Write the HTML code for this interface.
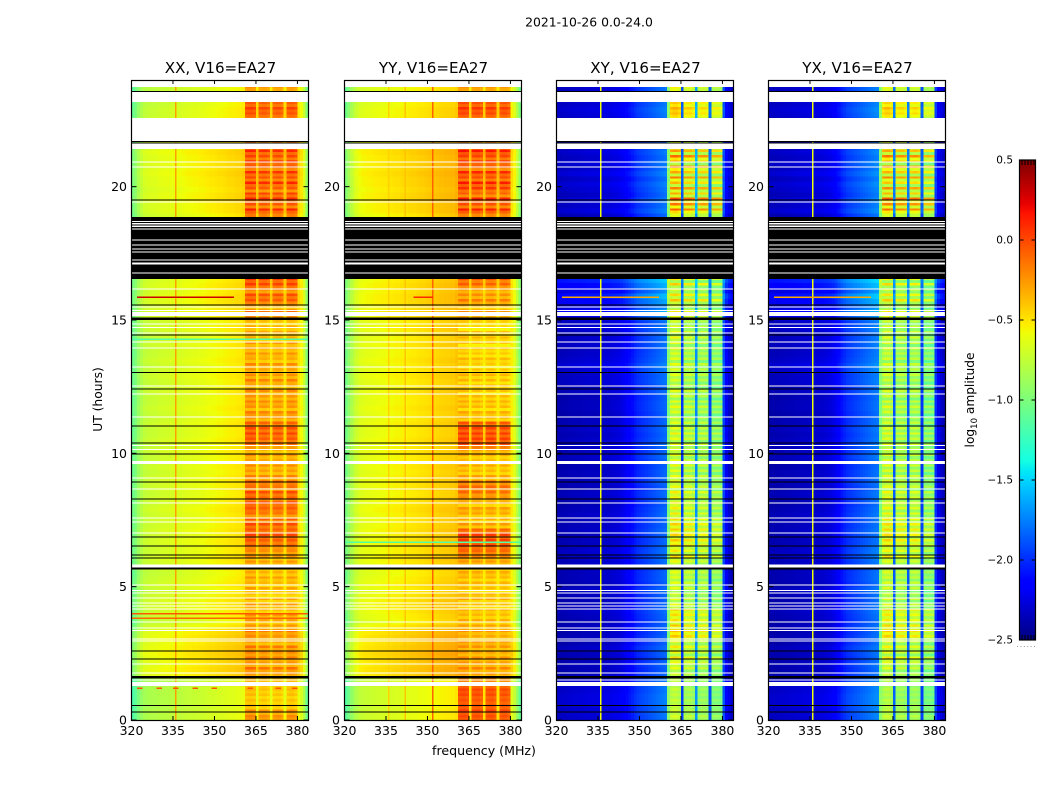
<!DOCTYPE html>
<html lang="en">
<head>
<meta charset="utf-8">
<title>2021-10-26 0.0-24.0</title>
<style>
html,body{margin:0;padding:0;background:#fff;}
svg{display:block;font-family:"DejaVu Sans","Liberation Sans",sans-serif;fill:#000;}
</style>
</head>
<body>
<svg id="chart" xmlns="http://www.w3.org/2000/svg" width="1050" height="800" viewBox="0 0 1050 800">
<rect x="0" y="0" width="1050" height="800" fill="#fff"/>
<text x="589" y="26.5" font-size="12.4" text-anchor="middle">2021-10-26 0.0-24.0</text>
<text x="0" y="0" font-size="12.3" text-anchor="middle" transform="translate(102,399.5) rotate(-90)">UT (hours)</text>
<text x="484" y="755" font-size="12.6" text-anchor="middle">frequency (MHz)</text>
<text x="0" y="0" font-size="12.2" text-anchor="middle" transform="translate(974,400) rotate(-90)">log<tspan font-size="8.5" dy="3">10</tspan><tspan dy="-3"> amplitude</tspan></text>
</svg>
<script>
/* ---------- data ---------- */
const panelKeys = ['XX', 'YY', 'XY', 'YX'];
const panelTitles = ['XX, V16=EA27', 'YY, V16=EA27', 'XY, V16=EA27', 'YX, V16=EA27'];
const xTickLabels = [320, 335, 350, 365, 380];
const yTickLabels = [0, 5, 10, 15, 20];
const colorTickLabels = [0.5, 0, -0.5, -1, -1.5, -2, -2.5];

/* log10 amplitude per 1 MHz channel, 320..383 MHz */
const profileXX = [-1.05,-.98,-.88,-.80,-.74,-.72,-.71,-.70,-.70,-.69,-.68,-.68,-.67,-.67,-.66,-.66,-.65,-.65,-.64,-.63,-.62,-.62,-.61,-.61,-.60,-.60,-.59,-.58,-.57,-.57,-.56,-.55,-.55,-.54,-.53,-.52,-.52,-.51,-.50,-.50,-.48,-.16,-.14,-.14,-.16,-.46,-.20,-.18,-.18,-.22,-.46,-.20,-.18,-.18,-.22,-.46,-.18,-.16,-.16,-.20,-.48,-.55,-.70,-.95];
const profileYY = [-1.02,-.92,-.82,-.74,-.68,-.64,-.62,-.61,-.60,-.60,-.59,-.58,-.58,-.57,-.57,-.56,-.56,-.55,-.54,-.54,-.53,-.52,-.52,-.51,-.50,-.50,-.49,-.48,-.48,-.47,-.46,-.45,-.45,-.44,-.43,-.43,-.42,-.42,-.41,-.41,-.38,-.20,-.18,-.18,-.20,-.46,-.22,-.20,-.20,-.24,-.46,-.22,-.20,-.20,-.24,-.46,-.23,-.21,-.21,-.26,-.52,-.62,-.78,-.98];
const profileXY = [-2.38,-2.38,-2.37,-2.37,-2.36,-2.36,-2.35,-2.35,-2.35,-2.34,-2.34,-2.33,-2.33,-2.33,-2.33,-2.32,-2.32,-2.31,-2.31,-2.30,-2.29,-2.28,-2.27,-2.25,-2.22,-2.18,-2.14,-2.10,-2.06,-2.02,-2.00,-1.98,-1.96,-1.94,-1.92,-1.90,-1.88,-1.86,-1.84,-1.82,-1.00,-.66,-.62,-.62,-.68,-1.95,-.74,-.72,-.72,-.78,-1.70,-.80,-.76,-.76,-.80,-1.90,-.86,-.84,-.84,-.90,-1.95,-2.20,-2.30,-2.36];
const profileYX = [-2.38,-2.38,-2.38,-2.37,-2.37,-2.36,-2.36,-2.36,-2.35,-2.35,-2.34,-2.34,-2.33,-2.33,-2.33,-2.32,-2.32,-2.31,-2.31,-2.30,-2.29,-2.28,-2.26,-2.24,-2.20,-2.14,-2.08,-2.04,-2.00,-1.98,-1.96,-1.94,-1.92,-1.90,-1.88,-1.86,-1.84,-1.82,-1.80,-1.78,-1.00,-.72,-.66,-.66,-.72,-1.85,-.78,-.75,-.75,-.80,-1.85,-.78,-.74,-.74,-.80,-1.95,-.90,-.88,-.88,-.92,-2.00,-2.22,-2.30,-2.36];
/* how much of each channel follows the bright-band row level */
const bandWeight = [0,0,0,0,0,0,0,0,0,0,0,0,0,0,0,0,0,0,0,0,0,0,0,0,0,0,0,0,0,0,0,0,0,0,0,0,0,0,0,0,0,1,1,1,1,.3,1,1,1,1,.3,1,1,1,1,.3,1,1,1,1,0,0,0,0];

/* per 0.2 h row offsets, hundredths of a dex, bottom row first */
const rowBandXX = [-5,-8,-18,-20,-20,-18,-16,-16, -8,-2,-10,-5,-6,-3,-12,-8,-4,-10, -14,-10,-16,-12,-15,-20,-14,-18,-12,-16,-14, -10,-12,-6,2,6,10,6,8, 4,-2,6,10,4,8,0,6,-6, -12,-8,-14,-10,-12, -2,6,10,8,4, -8,-4,-12,-6,-10,-8,-14,-6,-10, -12,-8,-16,-10,-14,-12,-18,-14,-16,-20, -8,-2,-14,4,8,-4,10,12, 0,0,0,0,0,0,0,0,0,0,0,0, 16,4,12,10,2,14,6,12,4,16,8,14, 0,0,0,0,0,0, 8,12,6, 0,-6,-8, 0];
const rowBandYY = [14,16,14,12,14,16,12,0, -6,-4,-8,-6,-10,-8,-6,-12,-8,-10, -14,-16,-12,-18,-14,-12,-18,-14,-16,-12,-14, -8,-4,6,14,16,16,8,-10, -14,-12,-8,-14,-6,2,6,4,-10, -16,-12,-18,-14,-6, 10,16,16,14,10, -14,-12,-18,-14,-16,-20,-14,-18,-16, -18,-22,-16,-20,-18,-22,-16,-18,-24,-20, -14,-8,-16,-2,-6,-8,4,8, 0,0,0,0,0,0,0,0,0,0,0,0, 20,8,18,4,14,20,10,18,6,20,12,22, 0,0,0,0,0,0, 14,18,12, 0,-4,-6, 0];
const rowBandCross = [-6,-10,-8,-12,-14,-12,-12,-12, -4,-8,-2,6,-6,4,-4,14,18,12, 4,8,14,-4,-8,-6,-10,-6,-8,-4,2, -2,6,2,10,14,8,12,10, 6,2,-2,4,-4,2,-6,0,-4, -8,-4,-10,-6,-2, -4,-8,-2,-6,-10, -6,-12,-4,-8,-14,-6,-10,-12,-6, -10,-6,-12,-8,-4,-10,-2,-8,-6,-12, -8,-2,-10,8,4,-6,2,-4, 0,0,0,0,0,0,0,0,0,0,0,0, 36,28,40,14,22,8,26,12,28,10,34,16, 0,0,0,0,0,0, 22,26,18, 4,8,6, 0];
const rowBaseParallel = [-10,-10,-12,-12,-12,-12,-12,-12, 8,10,8,10,12,10,8,10,8,2, -4,-2,0,2,2,0,-2,0,-2,-4,-2, 0,2,0,0,2,0,2,0, 0,0,2,0,0,-2,0,0,0, -2,0,-2,-2,0, -2,0,-2,-2,0, -2,-2,0,-2,-2,0,-2,-2,0, -2,-2,0,-2,-2,0,-2,-2,0,-2, 2,4,2,4,4,2,4,2, 0,0,0,0,0,0,0,0,0,0,0,0, 4,4,6,6,4,6,6,8,6,6,6,8, 0,0,0,0,0,0, -2,-2,-4, -6,-6,-6, 0];
const rowBaseCross = [5,6,6,8,8,6,6,5, 0,-2,0,-2,0,2,-2,0,-2,0, -2,0,2,0,-2,0,2,-2,0,0,-2, 2,3,4,2,0,0,2,0, 0,2,0,-2,0,2,-2,0,0, 0,-2,0,2,0, 3,2,0,2,0, 0,-2,0,0,-2,2,0,4,3, 6,9,5,3,2,4,3,2,5,3, 12,20,10,18,26,12,22,30, 0,0,0,0,0,0,0,0,0,0,0,0, 8,4,7,2,5,8,3,9,4,7,3,6, 0,0,0,0,0,0, 6,8,5, 2,3,4, 0];
/* fine striping inside each 0.2 h row of the bright bands */
const rowFineParallel = [3,5,4,3,4,4,3,0, 6,8,5,7,5,8,6,5,7,5, 6,5,7,5,8,5,6,5,7,5,6, 5,7,5,8,6,7,5,8, 7,8,5,8,6,8,5,7,6, 5,7,5,6,8, 8,6,8,7,5, 7,5,8,6,5,7,5,8,6, 5,7,5,6,5,7,5,6,5,5, 6,8,5,8,7,6,9,8, 0,0,0,0,0,0,0,0,0,0,0,0, 11,9,12,8,11,12,9,11,8,12,9,11, 0,0,0,0,0,0, 5,6,4, 3,3,3, 0];
const rowFineCross = [4,4,5,4,4,5,4,0, 9,12,8,11,13,9,12,11,9,12, 11,9,12,8,12,10,13,9,11,8,12, 9,12,11,13,10,12,12,11, 12,11,13,9,12,10,12,11,9, 11,13,10,12,11, 12,11,13,9,12, 11,13,10,12,12,9,13,11,10, 12,11,13,10,12,14,11,12,10,12, 12,16,11,18,14,12,20,16, 0,0,0,0,0,0,0,0,0,0,0,0, 20,23,22,18,25,20,23,22,18,25,20,22, 0,0,0,0,0,0, 5,6,5, 4,4,4, 0];

/* single-channel interference: [panel, MHz, value] */
const rfiColumns = [['XX',335.9,-.28],['YY',335.9,-.44],['YY',341.9,-.40],['YY',351.8,-.08],['XY',335.9,-.58],['YX',335.9,-.58]];
/* bad rows: [panel, hour, start MHz, end MHz, value] */
const rfiRows = [['XX',15.86,322,357,.30],['YY',15.86,345,352,.10],['XY',15.86,322,357,-.30],['YX',15.86,322,357,-.30],['XX',14.29,320,384,-1.15],['XX',4.0,320,384,-.05],['XX',3.82,320,384,-.10],['YY',6.67,320,384,-1.15],['XX',1.2,322,324,-.05],['XX',1.2,329,331,-.05],['XX',1.2,335,337,-.05],['XX',1.2,342,344,-.05],['XX',1.2,349,351,-.05],['XX',1.2,362,364,-.05],['XX',1.2,372,374,-.05],['XX',1.2,378,380,-.05]];

/* flagged time ranges, hours: white = no data */
const whiteRanges = [[23.74,24],[23.17,23.55],[21.7,22.57],[21.41,21.64],[15.15,15.3],[1.27,1.43]];
const whiteLines = [20.93,20.74,19.43,16.16,15.49,15.35,14.85,14.71,14.51,14.18,13.95,13.24,12.53,12.23,11.36,10.29,10.14,9.65,9.08,8.66,8.14,7.58,7.43,7.01,5.78,5.06,4.85,4.76,4.58,4.39,4.28,4.16,3.68,3.45,3.35,3.04,2.96,2.1,1.77,1.5];
const whiteLineWide = [9.65,5.78,17.11];
const blackRanges = [[16.54,18.86]];
const whiteInBlack = [18.7,18.62,18.56,18.5,18.42,18.0,17.81,17.66,17.55,17.25,17.11,16.76];
const blackLines = [23.57,21.69,21.64,19.5,15.56,15.04,14.43,13.04,12.41,11.03,10.39,9.98,8.93,8.29,6.86,6.53,6.19,6.08,5.68,2.59,2.29,1.61,.54,.30];
const blackLineWide = [15.04,5.68,1.61];

/* ---------- scales ---------- */
const svg = document.getElementById('chart');
const NS = 'http://www.w3.org/2000/svg';
const plot = {top: 80, bottom: 720, width: 177, fMin: 320, fMax: 384, hMax: 24};
const lefts = {XX: 131.5, YY: 344.5, XY: 556.5, YX: 768.5};
const profiles = {XX: profileXX, YY: profileYY, XY: profileXY, YX: profileYX};
const bandRows = {XX: rowBandXX, YY: rowBandYY, XY: rowBandCross, YX: rowBandCross};
const baseRows = {XX: rowBaseParallel, YY: rowBaseParallel, XY: rowBaseCross, YX: rowBaseCross};
const fineRows = {XX: rowFineParallel, YY: rowFineParallel, XY: rowFineCross, YX: rowFineCross};
const bandContrast = {XX: 1.2, YY: 1.2, XY: 1, YX: 1};
const colorMin = -2.5, colorMax = 0.5;

function xScale(key, f) { return lefts[key] + (f - plot.fMin) / (plot.fMax - plot.fMin) * plot.width; }
function yScale(h) { return plot.bottom - h / plot.hMax * (plot.bottom - plot.top); }
function cScale(v) { return 640 - (v - colorMin) / (colorMax - colorMin) * 480; }
function clamp(v) { return Math.max(0, Math.min(1, v)); }
function jet(v) {
  const t = clamp((v - colorMin) / (colorMax - colorMin));
  let r, g, b;
  if (t < .35) r = 0; else if (t < .66) r = (t - .35) / .31; else if (t < .89) r = 1; else r = 1 - (t - .89) / .11 * .5;
  if (t < .125) g = 0; else if (t < .375) g = (t - .125) / .25; else if (t < .64) g = 1; else if (t < .91) g = 1 - (t - .64) / .27; else g = 0;
  if (t < .11) b = .5 + t / .11 * .5; else if (t < .34) b = 1; else if (t < .65) b = 1 - (t - .34) / .31; else b = 0;
  return 'rgb(' + Math.round(r * 255) + ',' + Math.round(g * 255) + ',' + Math.round(b * 255) + ')';
}
function rect(parent, x, y, w, h, fill) {
  const el = document.createElementNS(NS, 'rect');
  el.setAttribute('x', x.toFixed(2));
  el.setAttribute('y', y.toFixed(2));
  el.setAttribute('width', w.toFixed(2));
  el.setAttribute('height', h.toFixed(2));
  el.setAttribute('fill', fill);
  parent.appendChild(el);
  return el;
}
function label(parent, x, y, str, anchor, size) {
  const el = document.createElementNS(NS, 'text');
  el.setAttribute('x', x);
  el.setAttribute('y', y);
  el.setAttribute('text-anchor', anchor);
  el.setAttribute('font-size', size);
  el.textContent = str;
  parent.appendChild(el);
  return el;
}
function group(parent) {
  const g = document.createElementNS(NS, 'g');
  parent.appendChild(g);
  return g;
}

/* ---------- panels ---------- */
panelKeys.forEach(function (key, p) {
  const left = lefts[key];
  const panel = group(svg);
  
  

  const heat = group(panel);
  
  
  heat.setAttribute('shape-rendering', 'crispEdges');
  const profile = profiles[key], bands = bandRows[key], bases = baseRows[key], fines = fineRows[key];
  const contrast = bandContrast[key];
  const rowHours = plot.hMax / bands.length;
  bands.forEach(function (bandOffset, r) {
    const yTop = yScale((r + 1) * rowHours), yBot = yScale(r * rowHours);
    const yMid = (yTop + yBot) / 2;
    profile.forEach(function (level, c) {
      const w = bandWeight[c];
      const value = level + w * contrast * bandOffset / 100 + (1 - w) * bases[r] / 100;
      const x0 = xScale(key, plot.fMin + c), x1 = xScale(key, plot.fMin + c + 1);
      if (w === 1 && fines[r] !== 0) {
        const upper = rect(heat, x0, yTop, x1 - x0 + .3, yMid - yTop + .3, jet(value + fines[r] / 100));
        
        
        const lower = rect(heat, x0, yMid, x1 - x0 + .3, yBot - yMid + .3, jet(value - fines[r] / 100));
        
        
      } else {
        const cell = rect(heat, x0, yTop, x1 - x0 + .3, yBot - yTop + .3, jet(value));
        
        
      }
    });
  });

  const marks = group(panel);
  
  
  marks.setAttribute('shape-rendering', 'crispEdges');

  rfiColumns.filter(function (d) { return d[0] === key; }).forEach(function (d) {
    const m = rect(marks, xScale(key, d[1]) - .5, plot.top, 1.5, plot.bottom - plot.top, jet(d[2]));
    
    
  });
  rfiRows.filter(function (d) { return d[0] === key; }).forEach(function (d) {
    const x0 = xScale(key, d[2]), x1 = xScale(key, d[3]);
    const m = rect(marks, x0, yScale(d[1]) - .5, x1 - x0, 1.5, jet(d[4]));
    
    
  });
  whiteRanges.forEach(function (d) {
    const m = rect(marks, left, yScale(d[1]), plot.width, yScale(d[0]) - yScale(d[1]), '#fff');
    
    
  });
  whiteLines.forEach(function (h) {
    const t = whiteLineWide.indexOf(h) >= 0 ? 3 : 1;
    const m = rect(marks, left, yScale(h) - t / 2, plot.width, t, '#fff');
    
    
  });
  blackRanges.forEach(function (d) {
    const m = rect(marks, left, yScale(d[1]), plot.width, yScale(d[0]) - yScale(d[1]), '#000');
    
    
  });
  whiteInBlack.forEach(function (h) {
    const t = whiteLineWide.indexOf(h) >= 0 ? 2 : 1;
    const m = rect(marks, left, yScale(h) - t / 2, plot.width, t, '#fff');
    
    
  });
  blackLines.forEach(function (h) {
    const t = blackLineWide.indexOf(h) >= 0 ? 2.4 : 1;
    const m = rect(marks, left, yScale(h) - t / 2, plot.width, t, '#000');
    
    
  });

  const title = label(panel, left + plot.width / 2 + .5, 73, panelTitles[p], 'middle', 15.1);
  
  

  const frame = rect(panel, left, plot.top + .5, plot.width, plot.bottom - plot.top, 'none');
  frame.setAttribute('stroke', '#000');
  frame.setAttribute('stroke-width', '1.2');
  
  

  xTickLabels.forEach(function (f) {
    const x = xScale(key, f);
    const t1 = rect(panel, x - .5, plot.bottom - 4, 1, 4, '#000');
    
    
    const t2 = rect(panel, x - .5, plot.top, 1, 4, '#000');
    
    
    const tl = label(panel, x, 735, String(f), 'middle', 12.5);
    
    
  });
  yTickLabels.forEach(function (h) {
    const y = yScale(h);
    const t1 = rect(panel, left, y - .5, 5, 1, '#000');
    
    
    const t2 = rect(panel, left + plot.width - 5, y - .5, 5, 1, '#000');
    
    
    const tl = label(panel, left - 4.5, y + 4.5, String(h), 'end', 12.5);
    
    
  });
});

/* ---------- colorbar ---------- */
const bar = group(svg);


const strip = group(bar);


strip.setAttribute('shape-rendering', 'crispEdges');
const barX = 1019.5, barW = 16, barSteps = 240;
for (let i = 0; i < barSteps; i++) {
  const v = colorMin + (i + .5) / barSteps * (colorMax - colorMin);
  const yTop = cScale(colorMin + (i + 1) / barSteps * (colorMax - colorMin));
  const seg = rect(strip, barX, yTop, barW, 480 / barSteps + .3, jet(v));
  
  
}
const barFrame = rect(bar, barX, 160, barW, 480, 'none');
barFrame.setAttribute('stroke', '#000');
barFrame.setAttribute('stroke-width', '1.2');


colorTickLabels.forEach(function (v) {
  const y = cScale(v);
  if (v !== colorMax && v !== colorMin) {
    const t1 = rect(bar, barX, y - .5, 4, 1, '#000');
    
    
    const t2 = rect(bar, barX + barW - 4, y - .5, 4, 1, '#000');
    
    
  }
  const txt = (v < 0 ? '\u2212' : '') + Math.abs(v).toFixed(1);
  const tl = label(bar, 1013, y + 3.5, txt, 'end', 10.5);
  
  
});
for (let i = 0; i < 5; i++) {
  const x = barX + 2 + i * 3;
  const a = rect(bar, x, 160, 1, 5, '#000');
  
  
  const b = rect(bar, x, 635, 1, 5, '#000');
  
  
}
for (let i = 0; i < 6; i++) {
  const d = rect(bar, 1017 + i * 3.4, 646, 1, 1, '#999');
  
  
}
</script>
</body>
</html>
